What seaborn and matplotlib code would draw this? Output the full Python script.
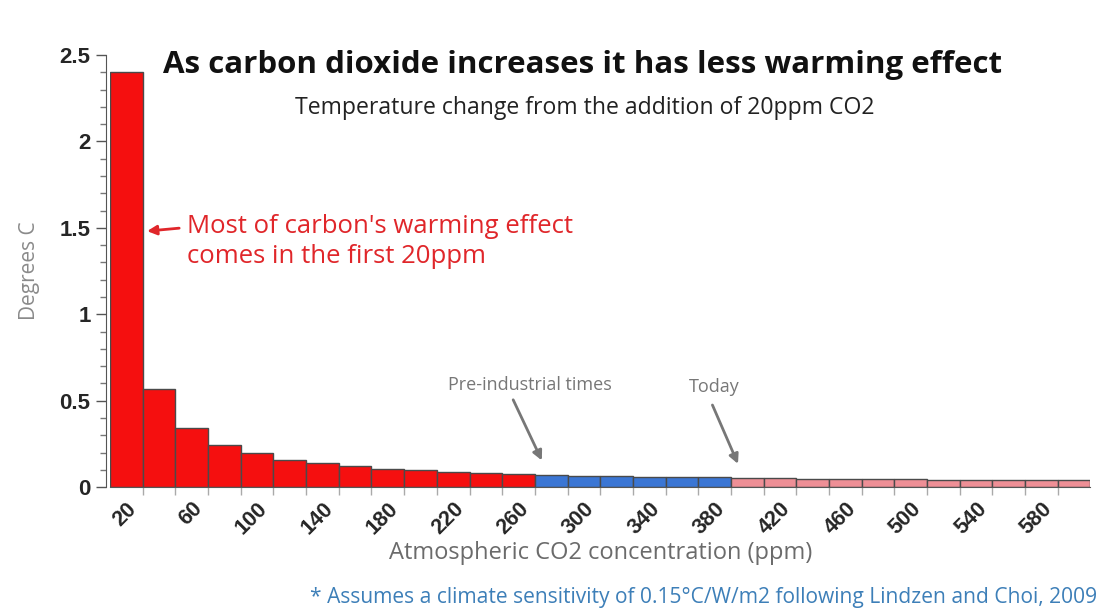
import matplotlib
matplotlib.use("Agg")
import matplotlib.pyplot as plt
import seaborn as sns
import pandas as pd
import numpy as np
from matplotlib.ticker import MultipleLocator, FixedLocator

ppm = list(range(20, 620, 20))
red_vals = [2.40, 0.567, 0.34, 0.243, 0.195, 0.158, 0.14, 0.125, 0.106, 0.097, 0.089, 0.080, 0.077]
blue_vals = [0.070, 0.067, 0.064, 0.061, 0.058, 0.056]
pink_vals = [0.053, 0.051, 0.049, 0.047, 0.046, 0.045, 0.044, 0.043, 0.041, 0.040, 0.039]
groups = ["past"] * len(red_vals) + ["pre"] * len(blue_vals) + ["today"] * len(pink_vals)
values = red_vals + blue_vals + pink_vals
palette = {"past": "#f50f0f", "pre": "#3b76d4", "today": "#ee8f96"}
tick_labels = [str(p) if i % 2 == 0 else "" for i, p in enumerate(ppm)]
ytick_vals = [0, 0.5, 1, 1.5, 2, 2.5]
ytick_labels = ["0", "0.5", "1", "1.5", "2", "2.5"]

df = pd.DataFrame({"ppm": [str(p) for p in ppm], "deg": values, "grp": groups})

sns.set_style("white")
plt.rcParams["font.family"] = ["Open Sans", "DejaVu Sans"]

fig = plt.figure(figsize=(11.07, 6.12), dpi=100)
ax = fig.add_axes([0.0994, 0.204, 0.8856, 0.706])

sns.barplot(data=df, x="ppm", y="deg", hue="grp", palette=palette, dodge=False,
            width=1.0, edgecolor="#4a4a4a", linewidth=1.0, legend=False, ax=ax, saturation=1)

for s in ["top", "right"]:
    ax.spines[s].set_visible(False)
ax.spines["left"].set_color("#555")
ax.spines["bottom"].set_color("#555")
ax.spines["left"].set_position(("outward", 3))

ax.set_xlim(-0.5, len(ppm) - 0.5)
ax.set_ylim(0, 2.5)
ax.yaxis.set_minor_locator(MultipleLocator(0.1))
ax.tick_params(axis="y", which="major", length=7, width=1, color="#555", left=True,
               direction="out", pad=4)
ax.tick_params(axis="y", which="minor", length=4, width=1, color="#777", left=True, direction="out")
ax.set_yticks(ytick_vals)
ax.set_yticklabels(ytick_labels, fontsize=16, fontweight="bold",
                   family=["Liberation Sans", "DejaVu Sans"])

ax.set_xticks(range(len(ppm)))
ax.set_xticklabels(tick_labels, rotation=45, ha="right", rotation_mode="anchor",
                   fontsize=15.5, fontweight="bold", family=["Liberation Sans", "DejaVu Sans"])
ax.xaxis.set_minor_locator(FixedLocator(np.arange(0.5, len(ppm) - 0.5, 1)))
ax.tick_params(axis="x", which="major", length=0, pad=8)
ax.tick_params(axis="x", which="minor", length=6, width=1, color="#aaa", bottom=True, direction="out")

ax.set_xlabel("Atmospheric CO2 concentration (ppm)", fontsize=17, color="#6b6b6b", labelpad=2)
ax.set_ylabel("Degrees C", fontsize=15, color="#8a8a8a", labelpad=14)

fig.text(0.526, 0.893, "As carbon dioxide increases it has less warming effect",
         ha="center", va="center", fontsize=22.5, fontweight="bold", color="#111")
fig.text(0.528, 0.823, "Temperature change from the addition of 20ppm CO2",
         ha="center", va="center", fontsize=16.6, color="#222")

ax.annotate("", xy=(0.55, 1.48), xytext=(1.7, 1.50),
            arrowprops=dict(arrowstyle="-|>", color="#e0262a", lw=2, mutation_scale=14))
ax.text(1.85, 1.42, "Most of carbon's warming effect\ncomes in the first 20ppm",
        fontsize=18.5, color="#e0262a", va="center", ha="left", linespacing=1.25)

ax.text(9.85, 0.59, "Pre-industrial times", fontsize=13, color="#777", ha="left", va="center")
ax.annotate("", xy=(12.75, 0.14), xytext=(11.8, 0.52),
            arrowprops=dict(arrowstyle="-|>", color="#777", lw=2, mutation_scale=14))
ax.text(17.2, 0.58, "Today", fontsize=13, color="#777", ha="left", va="center")
ax.annotate("", xy=(18.75, 0.12), xytext=(17.9, 0.49),
            arrowprops=dict(arrowstyle="-|>", color="#777", lw=2, mutation_scale=14))

fig.text(0.991, 0.024, "* Assumes a climate sensitivity of 0.15°C/W/m2 following Lindzen and Choi, 2009",
         ha="right", va="center", fontsize=15.1, color="#3d7fb8")

fig.savefig("out.png", dpi=100)
